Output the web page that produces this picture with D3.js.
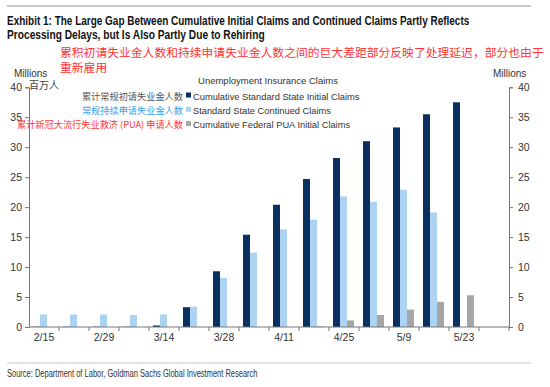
<!DOCTYPE html>
<html>
<head>
<meta charset="utf-8">
<script src="https://cdn.jsdelivr.net/npm/d3@7"></script>
<style>
  body { margin: 0; background: #fff; }
  svg { display: block; }
  .narrow { font-family: "Liberation Sans", Arial, sans-serif; }
  .sans { font-family: "Liberation Sans", Arial, sans-serif; }
  .cjk { font-family: "Noto Sans CJK SC", sans-serif; }
</style>
</head>
<body>
<svg id="chart" width="550" height="387"></svg>
<script>
// weekly categories
var weeks = ["2/15","2/22","2/29","3/7","3/14","3/21","3/28","4/4","4/11","4/18","4/25","5/2","5/9","5/16","5/23","5/30"];
var tickLabels = ["2/15","2/29","3/14","3/28","4/11","4/25","5/9","5/23"];
var yTicks = [0,5,10,15,20,25,30,35,40];

// series values (millions)
var initialClaims   = [0.05,0.05,0.05,0.05,0.25,3.3,9.3,15.4,20.4,24.7,28.2,31.0,33.3,35.5,37.5,null];
var continuedClaims = [2.1,2.1,2.1,2.0,2.1,3.4,8.2,12.4,16.3,17.9,21.8,20.9,22.9,19.1,null,null];
var puaClaims       = [null,null,null,null,null,null,null,null,null,0.1,1.1,2.0,2.9,4.2,5.3,null];

var seriesNames = ["Cumulative Standard State Initial Claims","Standard State Continued Claims","Cumulative Federal PUA Initial Claims"];
var seriesCn = ["累计常规初请失业金人数","常规持续申请失业金人数","累计新冠大流行失业救济 (PUA) 申请人数"];
var seriesColors = ["#0a3060","#acd3f1","#a6a6a6"];
var cnColors = ["#555555","#3a9cef","#ff3333"];

var svg = d3.select("#chart");

// rules top & bottom
svg.append("line").attr("x1",7).attr("x2",531).attr("y1",6).attr("y2",6)
   .attr("stroke","#c8c8c8").attr("stroke-width",2);
svg.append("line").attr("x1",7).attr("x2",531).attr("y1",363).attr("y2",363)
   .attr("stroke","#c8c8c8").attr("stroke-width",1);

// narrow text: squeeze horizontally so it takes the width of the original narrow face
function narrowText(txt, x0, y0, size, weight, width, fill) {
  var t = svg.append("text").attr("class","narrow")
    .attr("font-size", size).attr("font-weight", weight).attr("fill", fill)
    .text(txt);
  var w = t.node().getComputedTextLength();
  t.attr("transform", "translate(" + x0 + "," + y0 + ") scale(" + (width / w) + ",1)");
  return t;
}

// titles
narrowText("Exhibit 1: The Large Gap Between Cumulative Initial Claims and Continued Claims Partly Reflects", 7, 25, 12.5, "bold", 463, "#111");
narrowText("Processing Delays, but Is Also Partly Due to Rehiring", 7, 39, 12.5, "bold", 258, "#111");
svg.append("text").attr("class","cjk").attr("x",60).attr("y",57)
   .attr("font-size",11.8).attr("fill","#ff3333")
   .text("累积初请失业金人数和持续申请失业金人数之间的巨大差距部分反映了处理延迟，部分也由于");
svg.append("text").attr("class","cjk").attr("x",60).attr("y",72)
   .attr("font-size",11.8).attr("fill","#ff3333")
   .text("重新雇用");

// scales
var x = d3.scaleBand().domain(weeks).range([29, 509]);
var xs = d3.scaleBand().domain([0,1,2]).range([4, 25]);
var y = d3.scaleLinear().domain([0, 40]).range([327, 87.3]);

// axes
var leftAxis = d3.axisLeft(y).tickValues(yTicks).tickSize(4).tickPadding(3);
var rightAxis = d3.axisRight(y).tickValues(yTicks).tickSize(4).tickPadding(5);

var gl = svg.append("g").attr("transform","translate(29,0)").call(leftAxis);
var gr = svg.append("g").attr("transform","translate(509,0)").call(rightAxis);
[gl, gr].forEach(function(g) {
  g.select(".domain").attr("stroke","#777");
  g.selectAll(".tick line").attr("stroke","#777");
  g.selectAll(".tick text").attr("class","sans").attr("font-size",10.5).attr("fill","#333");
});

// bars
var allSeries = [initialClaims, continuedClaims, puaClaims];
allSeries.forEach(function(vals, si) {
  svg.append("g").selectAll("rect")
    .data(weeks.map(function(w, i) { return {week: w, v: vals[i]}; }).filter(function(d) { return d.v != null; }))
    .join("rect")
    .attr("x", function(d) { return x(d.week) + xs(si); })
    .attr("width", xs.bandwidth())
    .attr("y", function(d) { return y(d.v); })
    .attr("height", function(d) { return y(0) - y(d.v); })
    .attr("fill", seriesColors[si]);
});

// x axis
svg.append("line").attr("x1",29).attr("x2",509).attr("y1",y(0)).attr("y2",y(0))
   .attr("stroke","#777");
svg.append("g").selectAll("line")
  .data(weeks.slice(1).concat(["end"]))
  .join("line")
  .attr("x1", function(d) { return d === "end" ? 509 : x(d); })
  .attr("x2", function(d) { return d === "end" ? 509 : x(d); })
  .attr("y1", y(0)).attr("y2", y(0) + 4)
  .attr("stroke","#777");
svg.append("g").selectAll("text")
  .data(tickLabels)
  .join("text")
  .attr("class","sans")
  .attr("x", function(d) { return x(d) + x.bandwidth() / 2; })
  .attr("y", 341)
  .attr("text-anchor","middle")
  .attr("font-size",10.5).attr("fill","#333")
  .text(function(d) { return d; });

// unit labels
svg.append("text").attr("class","sans").attr("x",14).attr("y",77)
   .attr("font-size",10).attr("fill","#333").text("Millions");
svg.append("text").attr("class","sans").attr("x",493).attr("y",77)
   .attr("font-size",10).attr("fill","#333").text("Millions");
svg.append("text").attr("class","cjk").attr("x",29).attr("y",89)
   .attr("font-size",10).attr("fill","#444").text("百万人");

// legend
svg.append("text").attr("class","sans").attr("x",268).attr("y",84)
   .attr("text-anchor","middle").attr("font-size",9.5).attr("fill","#333")
   .text("Unemployment Insurance Claims");
var legend = svg.append("g").selectAll("g")
  .data(seriesNames)
  .join("g")
  .attr("transform", function(d, i) { return "translate(186," + (96 + i * 14.3) + ")"; });
legend.append("rect").attr("x",0).attr("y",-3.5).attr("width",5).attr("height",5)
  .attr("fill", function(d, i) { return seriesColors[i]; });
legend.append("text").attr("class","sans").attr("x",7).attr("y",3.5)
  .attr("font-size",9.3).attr("fill","#333")
  .text(function(d) { return d; });
legend.append("text").attr("class","cjk").attr("x",-3).attr("y",3.5)
  .attr("text-anchor","end").attr("font-size",9.2)
  .attr("fill", function(d, i) { return cnColors[i]; })
  .text(function(d, i) { return seriesCn[i]; });

// source
narrowText("Source: Department of Labor, Goldman Sachs Global Investment Research", 7, 377, 10, "normal", 251, "#333");
</script>
</body>
</html>
